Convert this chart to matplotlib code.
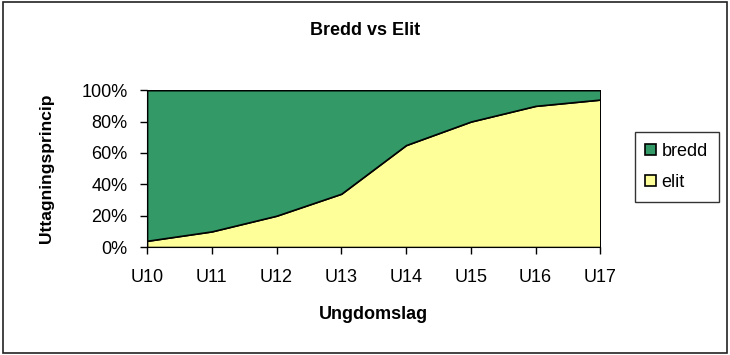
import matplotlib.pyplot as plt
from matplotlib.patches import Rectangle
import numpy as np

plt.rcParams['font.family'] = ['Liberation Sans', 'DejaVu Sans']

# data
categories = ['U10', 'U11', 'U12', 'U13', 'U14', 'U15', 'U16', 'U17']
elit = [4, 10, 20, 34, 65, 80, 90, 94]
bredd = [100 - v for v in elit]

green = '#339966'
yellow = '#ffff99'

fig = plt.figure(figsize=(7.3, 3.55), dpi=100)
fig.patches.append(Rectangle((0.004, 0.006), 0.992, 0.988, transform=fig.transFigure,
                             fill=False, edgecolor='#222222', linewidth=1.2))

ax = fig.add_axes([0.2014, 0.304, 0.621, 0.442])
x = np.arange(len(categories))
ax.stackplot(x, elit, bredd, colors=[yellow, green], edgecolor='black',
             linewidth=1.2, labels=['elit', 'bredd'])

ax.set_xlim(0, len(categories) - 1)
ax.set_ylim(0, 100)
ax.set_xticks(x)
ax.set_xticklabels(categories, fontsize=13)
ax.set_yticks(range(0, 101, 20))
ax.set_yticklabels([f'{v}%' for v in range(0, 101, 20)], fontsize=13)
ax.tick_params(direction='out', length=5, width=1)
ax.tick_params(axis='x', pad=11)
ax.tick_params(axis='y', pad=9)
ax.spines['top'].set_visible(False)
ax.spines['right'].set_visible(False)

ax.set_xlabel('Ungdomslag', fontsize=13, fontweight='bold', labelpad=14)
ax.set_ylabel('Uttagningsprincip', fontsize=12.5, fontweight='bold', labelpad=20)
fig.text(0.5, 0.915, 'Bredd vs Elit', ha='center', va='center',
         fontsize=13, fontweight='bold')

handles, labels = ax.get_legend_handles_labels()
leg = fig.legend(handles[::-1], labels[::-1], loc='center',
                 bbox_to_anchor=(0.927, 0.53), fontsize=13, frameon=True,
                 fancybox=False, edgecolor='black', handlelength=0.6,
                 handleheight=0.6, handletextpad=0.3, labelspacing=0.8,
                 borderpad=0.6, borderaxespad=0)
leg.get_frame().set_linewidth(1)

fig.savefig('out.png', dpi=100)
